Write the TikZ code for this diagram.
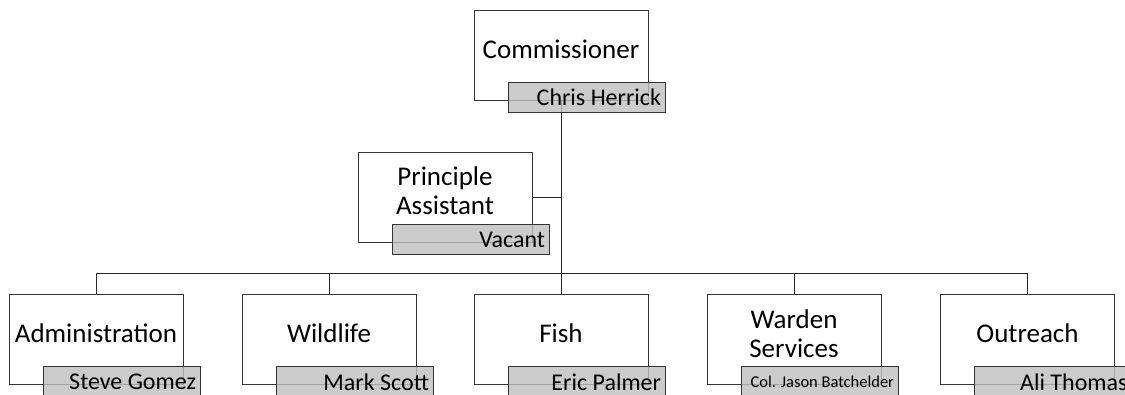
\documentclass[tikz,border=0pt]{standalone}
\usepackage{fontspec}
\setmainfont{Carlito}
\usetikzlibrary{calc}

\begin{document}
\begin{tikzpicture}[x=1pt,y=-1pt,
    line width=1pt,
    office/.style={draw=black!80,fill=white,minimum width=174pt,
      minimum height=90pt,inner sep=0pt},
    officetitle/.style={align=center,inner sep=0pt,
      font=\fontsize{27}{29}\selectfont},
    holder/.style={draw=black!80,fill=black!25,fill opacity=0.8,
      text opacity=1,anchor=north east,minimum height=30pt,
      text width=149pt,inner xsep=4pt,inner ysep=0pt,align=flush right,
      font=\fontsize{24}{28}\selectfont},
    link/.style={draw=black!85}
  ]
    \clip (0,0) rectangle (1125,395);

    % office boxes
    \node[office] (comm) at (561,55.5) {};
    \node[office] (asst) at (445,197.5) {};
    \node[office] (admin) at (96,340) {};
    \node[office] (wild) at (329,340) {};
    \node[office] (fish) at (561,340) {};
    \node[office] (ward) at (794,340) {};
    \node[office] (outr) at (1027.5,340) {};

    \coordinate (bus) at (561,274);

    % connectors
    \path[link] (comm.south) edge (fish.north)
    (asst.east)  edge (asst.east -| comm.south)
    (admin.north) edge (admin.north |- bus)
    (admin.north |- bus) edge (outr.north |- bus);
    \foreach \o in {wild,ward,outr} {\draw[link] (\o.north) -- (\o.north |- bus);};

    % titles
    \node[officetitle] (commT) at ([yshift=-39pt]comm.north) {Commissioner};
    \node[officetitle] (asstT) at ([yshift=-39pt]asst.north) {Principle\\Assistant};
    \node[officetitle] (adminT) at ([yshift=-39pt]admin.north) {Administration};
    \node[officetitle] (wildT) at ([yshift=-39pt]wild.north) {Wildlife};
    \node[officetitle] (fishT) at ([yshift=-39pt]fish.north) {Fish};
    \node[officetitle] (wardT) at ([yshift=-39pt]ward.north) {Warden\\Services};
    \node[officetitle] (outrT) at ([yshift=-39pt]outr.north) {Outreach};

    % office holders
    \node[holder] (commN) at ([xshift=17pt,yshift=19pt]comm.south east) {Chris Herrick};
    \node[holder] (asstN) at ([xshift=17pt,yshift=19pt]asst.south east) {Vacant};
    \node[holder] (adminN) at ([xshift=17pt,yshift=19pt]admin.south east) {Steve Gomez};
    \node[holder] (wildN) at ([xshift=17pt,yshift=19pt]wild.south east) {Mark Scott};
    \node[holder] (fishN) at ([xshift=17pt,yshift=19pt]fish.south east) {Eric Palmer};
    \node[holder,font=\fontsize{16.5}{19}\selectfont] (wardN)
      at ([xshift=17pt,yshift=19pt]ward.south east) {Col. Jason Batchelder};
    \node[holder] (outrN) at ([xshift=17pt,yshift=19pt]outr.south east) {Ali Thomas};
\end{tikzpicture}
\end{document}
